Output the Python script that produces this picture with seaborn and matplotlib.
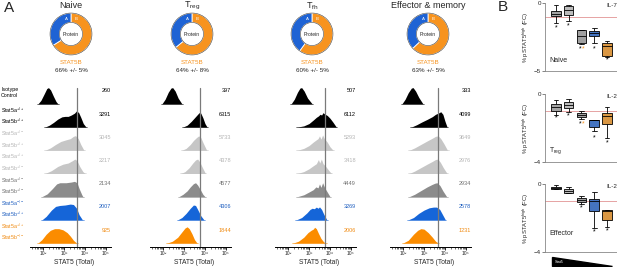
import matplotlib.pyplot as plt
import pandas as pd
import seaborn as sns
import numpy as np
from matplotlib.patches import Circle, Polygon

sns.set_theme(style="white")
plt.rcParams['font.family'] = ['Liberation Sans', 'DejaVu Sans']
plt.rcParams['mathtext.default'] = 'regular'

W, H = 617, 267


def fx(px):
    return px / W


def fy(py):
    return 1 - py / H


# ---- data ----
cell_types = ["Naive", "T$_{reg}$", "T$_{fh}$", "Effector & memory"]
stat5b_pct = [66, 64, 60, 63]
stat5b_sd = [5, 8, 5, 5]

row_labels = ["Isotype\nControl",
              "Stat5a$^{+/+}$\nStat5b$^{+/+}$",
              "Stat5a$^{+/-}$\nStat5b$^{+/+}$",
              "Stat5a$^{+/+}$\nStat5b$^{+/-}$",
              "Stat5a$^{+/-}$\nStat5b$^{+/-}$",
              "Stat5a$^{-/-}$\nStat5b$^{+/+}$",
              "Stat5a$^{+/+}$\nStat5b$^{-/-}$"]

mfi_naive = [260, 3291, 3045, 2217, 2134, 2007, 925]
mfi_treg = [397, 6315, 5733, 4378, 4577, 4306, 1844]
mfi_tfh = [507, 6112, 5293, 3418, 4449, 3269, 2006]
mfi_eff = [333, 4099, 3649, 2976, 2934, 2578, 1231]

decade_labels = ["10\u00b2", "10\u00b3", "10\u2074", "10\u2075"]

# histogram outlines: (log10 STAT5, relative height)
hist_naive = [
    [(1.76, 0), (1.9, .15), (2.05, .42), (2.18, .66), (2.26, .7), (2.36, .6), (2.5, .32), (2.62, .1), (2.71, 0)],
    [(2.1, 0), (2.3, .08), (2.5, .2), (2.7, .34), (2.9, .44), (3.05, .46), (3.2, .46), (3.35, .52), (3.5, .6), (3.6, .7), (3.7, .62), (3.8, .42), (3.92, .15), (4.05, 0)],
    [(2.1, 0), (2.35, .1), (2.6, .25), (2.85, .38), (3.1, .45), (3.3, .5), (3.45, .6), (3.55, .63), (3.68, .5), (3.8, .25), (3.95, 0)],
    [(2.1, 0), (2.4, .12), (2.7, .3), (2.95, .4), (3.2, .45), (3.4, .55), (3.52, .62), (3.62, .55), (3.75, .3), (3.9, .08), (4.0, 0)],
    [(1.95, 0), (2.2, .12), (2.45, .35), (2.65, .55), (2.8, .6), (3.1, .6), (3.35, .63), (3.5, .66), (3.62, .6), (3.72, .35), (3.85, .08), (3.9, 0)],
    [(1.95, 0), (2.15, .15), (2.4, .42), (2.6, .58), (2.8, .62), (3.05, .64), (3.3, .68), (3.45, .66), (3.6, .5), (3.72, .22), (3.88, 0)],
    [(1.76, 0), (1.95, .15), (2.15, .38), (2.35, .55), (2.55, .62), (2.75, .62), (2.95, .57), (3.15, .45), (3.3, .3), (3.45, .12), (3.6, 0)],
]
hist_treg = [
    [(1.95, 0), (2.1, .2), (2.25, .5), (2.38, .68), (2.46, .7), (2.58, .55), (2.72, .25), (2.9, 0)],
    [(2.95, 0), (3.15, .08), (3.35, .25), (3.5, .4), (3.62, .52), (3.72, .62), (3.8, .6), (3.9, .4), (4.0, .15), (4.1, 0)],
    [(2.9, 0), (3.1, .08), (3.3, .25), (3.45, .42), (3.6, .55), (3.7, .62), (3.8, .55), (3.92, .3), (4.08, 0)],
    [(2.85, 0), (3.05, .08), (3.25, .25), (3.42, .45), (3.55, .58), (3.65, .62), (3.75, .5), (3.88, .25), (4.02, 0)],
    [(2.76, 0), (2.95, .1), (3.15, .25), (3.3, .42), (3.45, .56), (3.55, .6), (3.65, .5), (3.78, .3), (3.9, .1), (4.0, 0)],
    [(2.7, 0), (2.9, .1), (3.1, .28), (3.3, .5), (3.45, .64), (3.55, .62), (3.65, .45), (3.8, .18), (3.95, 0)],
    [(2.2, 0), (2.45, .08), (2.7, .25), (2.9, .48), (3.05, .65), (3.15, .7), (3.25, .62), (3.38, .4), (3.5, .15), (3.62, 0)],
]
hist_tfh = [
    [(2.15, 0), (2.3, .2), (2.45, .5), (2.57, .68), (2.65, .7), (2.77, .55), (2.93, .25), (3.15, 0)],
    [(2.45, 0), (2.75, .05), (3.0, .15), (3.2, .3), (3.35, .42), (3.45, .48), (3.53, .55), (3.6, .52), (3.67, .62), (3.75, .56), (3.87, .5), (4.0, .38), (4.15, .2), (4.3, 0)],
    [(2.45, 0), (2.75, .08), (3.0, .2), (3.2, .35), (3.35, .45), (3.43, .5), (3.5, .62), (3.57, .48), (3.65, .66), (3.73, .5), (3.87, .35), (4.0, .15), (4.15, 0)],
    [(2.45, 0), (2.75, .08), (3.0, .2), (3.2, .33), (3.35, .42), (3.45, .6), (3.51, .45), (3.59, .62), (3.67, .42), (3.8, .3), (3.95, .12), (4.07, 0)],
    [(2.45, 0), (2.75, .08), (3.0, .2), (3.2, .3), (3.33, .42), (3.43, .38), (3.5, .55), (3.57, .4), (3.65, .6), (3.75, .38), (3.87, .2), (4.0, 0)],
    [(2.4, 0), (2.65, .1), (2.9, .3), (3.05, .45), (3.15, .5), (3.25, .48), (3.35, .55), (3.43, .5), (3.5, .56), (3.6, .45), (3.7, .25), (3.85, 0)],
    [(2.25, 0), (2.5, .08), (2.75, .25), (2.95, .45), (3.1, .55), (3.2, .6), (3.27, .68), (3.35, .62), (3.45, .42), (3.57, .2), (3.7, .05), (3.8, 0)],
]
hist_eff = [
    [(1.95, 0), (2.1, .2), (2.25, .48), (2.4, .68), (2.48, .7), (2.6, .55), (2.75, .28), (2.95, 0)],
    [(2.4, 0), (2.65, .1), (2.9, .22), (3.15, .33), (3.4, .45), (3.55, .55), (3.68, .6), (3.8, .66), (3.9, .55), (4.0, .25), (4.1, 0)],
    [(2.3, 0), (2.55, .1), (2.85, .25), (3.15, .4), (3.4, .52), (3.55, .6), (3.68, .62), (3.8, .5), (3.95, .28), (4.12, 0)],
    [(2.3, 0), (2.55, .1), (2.85, .25), (3.15, .4), (3.4, .52), (3.55, .6), (3.66, .62), (3.78, .48), (3.92, .25), (4.1, 0)],
    [(2.3, 0), (2.55, .1), (2.85, .26), (3.15, .42), (3.37, .52), (3.52, .58), (3.62, .6), (3.76, .48), (3.9, .25), (4.08, 0)],
    [(2.25, 0), (2.5, .1), (2.75, .28), (3.0, .42), (3.25, .52), (3.45, .55), (3.6, .55), (3.75, .45), (3.9, .2), (4.02, 0)],
    [(2.0, 0), (2.25, .12), (2.5, .38), (2.7, .55), (2.85, .62), (3.0, .6), (3.2, .45), (3.4, .25), (3.55, .08), (3.68, 0)],
]
ref_line = [3.62, 3.76, 3.75, 3.67]

# panel B boxplots: [low whisker, q1, median, q3, high whisker]
box_naive = [[-1.47, -0.98, -0.78, -0.61, -0.17],
             [-1.35, -0.86, -0.49, -0.25, -0.17],
             [-2.99, -2.94, -2.45, -2.0, -1.96],
             [-2.94, -2.45, -2.2, -2.08, -1.84],
             [-3.95, -3.92, -3.19, -2.94, -2.82]]
box_treg = [[-1.22, -0.98, -0.76, -0.59, -0.33],
            [-1.08, -0.82, -0.63, -0.49, -0.29],
            [-1.45, -1.37, -1.22, -1.12, -1.02],
            [-2.2, -1.96, -1.53, -1.51, -1.51],
            [-2.59, -1.76, -1.31, -1.12, -0.78]]
box_eff = [[-0.29, -0.27, -0.22, -0.2, -0.04],
           [-0.53, -0.53, -0.4, -0.29, -0.18],
           [-1.16, -1.06, -0.92, -0.82, -0.69],
           [-2.59, -1.61, -1.02, -0.88, -0.49],
           [-2.55, -2.1, -1.6, -1.51, -1.5]]
# significance marks (group, y, colour key)
sig_naive = [(0, -1.81, 'k'), (1, -1.67, 'k'), (1.88, -3.36, 'k'), (2.12, -3.36, 'o'), (3, -3.36, 'k'), (4, -4.17, 'k')]
sig_treg = [(0, -1.41, 'k'), (1, -1.31, 'k'), (1.88, -1.75, 'k'), (2.12, -1.75, 'o'), (3, -2.59, 'k'), (4, -2.88, 'k')]
sig_eff = [(2, -1.41, 'k'), (3, -2.82, 'k'), (4, -2.78, 'k')]
b_titles = ["IL-7", "IL-2", "IL-2"]
b_labels = ["Naive", "T$_{reg}$", "Effector"]
b_label_y = [-4.26, -3.35, -2.9]
b_ylims = [-5, -4, -4]

# ---- styles ----
blue, orange = '#1f63d4', '#f7931e'
row_fill = ['black', 'black', '#c6c6c6', '#c6c6c6', '#8c8c8c', '#1565d8', '#fb8c00']
row_text = ['black', 'black', '#b4b4b4', '#b4b4b4', '#6e6e6e', '#1f5fc0', '#f08a10']
box_colors = ['#a4a4a4', '#bcbcbc', '#a0a0a0', '#2f6fd6', '#f39a2a']

fig = plt.figure(figsize=(6.17, 2.67), dpi=100)

fig.text(fx(4), fy(8), "A", fontsize=11, va='center', ha='left')
fig.text(fx(498), fy(7), "B", fontsize=11, va='center', ha='left')

# ---- donuts ----
donut_x = [71, 192, 312, 428]
for c in range(4):
    cx, cy = donut_x[c], 34
    ax = fig.add_axes([fx(cx - 22), fy(cy + 22), 44 / W, 44 / H])
    b = stat5b_pct[c]
    ax.pie([b, 100 - b], colors=[orange, blue], startangle=90, counterclock=False,
           wedgeprops=dict(width=0.45, edgecolor='white', linewidth=0.6))
    ax.add_patch(Circle((0, 0), 1.0, fill=False, lw=0.4, ec='#444444'))
    ax.add_patch(Circle((0, 0), 0.55, fill=False, lw=0.4, ec='#444444'))
    ax.text(0, 0, "Protein", ha='center', va='center', fontsize=3.6)
    ax.text(-0.22, 0.72, "A", ha='center', va='center', fontsize=3.2, color='white')
    ax.text(0.22, 0.72, "B", ha='center', va='center', fontsize=3.2, color='white')
    ax.set_xlim(-1.05, 1.05)
    ax.set_ylim(-1.05, 1.05)
    ax.set_aspect('equal')
    fig.text(fx(cx), fy(6), cell_types[c], ha='center', va='center', fontsize=6.5)
    fig.text(fx(cx), fy(62), "STAT5B", ha='center', va='center', fontsize=4.5, color=orange)
    fig.text(fx(cx), fy(70), f"{b}% +/- {stat5b_sd[c]}%", ha='center', va='center', fontsize=4.5)

# ---- histograms ----
tick2_px = [43, 163, 288, 403]
all_hist = [hist_naive, hist_treg, hist_tfh, hist_eff]
all_mfi = [mfi_naive, mfi_treg, mfi_tfh, mfi_eff]
row_h = 23.2
for c in range(4):
    left = tick2_px[c] - 13
    ax = fig.add_axes([fx(left), fy(247), 81 / W, (247 - 85) / H])
    ax.set_xlim(1.38, 5.24)
    ax.set_ylim(0, (247 - 85) / row_h)
    for r in range(7):
        base = 0.17 + (6 - r)
        pts = np.array(all_hist[c][r])
        ax.fill_between(pts[:, 0], base, base + pts[:, 1], color=row_fill[r], lw=0)
        ax.plot([pts[0, 0] - 0.05, pts[-1, 0] + 0.05], [base, base], color=row_fill[r], lw=0.4)
        ax.text(5.24, base + 0.56, str(all_mfi[c][r]), ha='right', va='center',
                fontsize=4, color=row_text[r])
        if c == 0:
            bpx = 247 - base * row_h
            fig.text(fx(1), fy(bpx - 11), row_labels[r], ha='left', va='center',
                     fontsize=3.8, color=row_text[r], linespacing=1.3)
    ax.plot([ref_line[c]] * 2, [0, (247 - 88) / row_h], color='#7a7a7a', lw=0.9)
    for s in ['top', 'right', 'left']:
        ax.spines[s].set_visible(False)
    ax.spines['bottom'].set_color('black')
    ax.spines['bottom'].set_linewidth(0.7)
    ax.set_yticks([])
    ax.set_xticks([2, 3, 4, 5])
    ax.set_xticklabels(decade_labels, fontsize=3.6)
    minors = [np.log10(k * 10 ** e) for e in [1, 2, 3, 4] for k in range(2, 10)]
    ax.set_xticks([m for m in minors if 1.38 <= m <= 5.24], minor=True)
    ax.tick_params(axis='x', which='major', length=2.5, width=0.6, pad=0.5, bottom=True, color='black')
    ax.tick_params(axis='x', which='minor', length=1.3, width=0.4, bottom=True, color='black')
    ax.patch.set_alpha(0)
    fig.text(fx(left + 44), fy(262), "STAT5 (Total)", ha='center', va='center', fontsize=4.8)

# ---- panel B ----
all_box = [box_naive, box_treg, box_eff]
all_sig = [sig_naive, sig_treg, sig_eff]
b_top = [3, 94, 184]
b_bot = [71, 162, 252]
for i in range(3):
    ax = fig.add_axes([fx(545), fy(b_bot[i]), 74.7 / W, (b_bot[i] - b_top[i]) / H])
    df = pd.DataFrame([(g, v) for g, vals in enumerate(all_box[i]) for v in vals],
                      columns=["group", "value"])
    sns.boxplot(data=df, x="group", y="value", hue="group", palette=box_colors,
                whis=(0, 100), width=0.75, linewidth=0.6, linecolor='black',
                legend=False, ax=ax)
    ax.axhline(-1, color='#e6a3a3', lw=0.7, zorder=0)
    for gx, gy, col in all_sig[i]:
        ax.text(gx, gy, "*", ha='center', va='center', fontsize=5,
                color='black' if col == 'k' else orange)
    ax.set_xlim(-0.86, 5.0)
    ax.set_ylim(b_ylims[i], 0)
    ax.set_yticks([0, b_ylims[i]])
    ax.set_yticklabels(["0", f"\u2212{abs(b_ylims[i])}"], fontsize=4.5)
    ax.set_xticks([])
    ax.set_xlabel("")
    ax.set_ylabel("% pSTAT5$^{high}$ (FC)", fontsize=4.2, labelpad=2)
    ax.tick_params(axis='y', length=2, width=0.5, pad=1, left=True, color='#555555')
    for s in ['top', 'right']:
        ax.spines[s].set_visible(False)
    for s in ['left', 'bottom']:
        ax.spines[s].set_color('#888888')
        ax.spines[s].set_linewidth(0.6)
    ax.text(3.95, -0.03 * abs(b_ylims[i]), b_titles[i], ha='left', va='center', fontsize=4.5)
    ax.text(-0.55, b_label_y[i], b_labels[i], ha='left', va='center', fontsize=5)
    ax.patch.set_alpha(0)

tri = Polygon([(fx(552), fy(257)), (fx(552), fy(266)), (fx(612), fy(266))],
              closed=True, transform=fig.transFigure, color='black')
fig.add_artist(tri)
fig.text(fx(555), fy(262), "Stat5", fontsize=2.8, color='white', va='center', ha='left')

fig.savefig("out.png", dpi=100)
